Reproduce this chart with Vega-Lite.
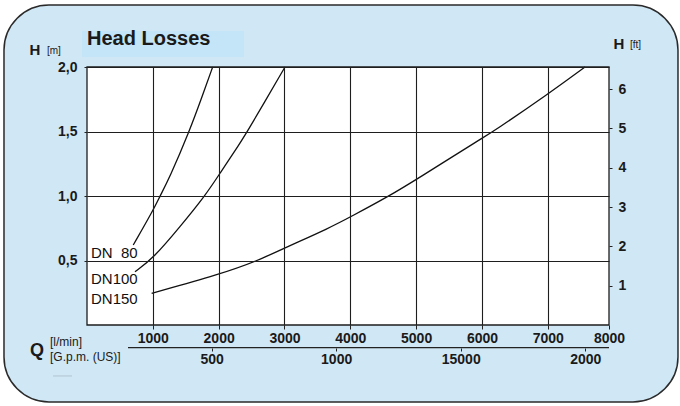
{
  "$schema": "https://vega.github.io/schema/vega-lite/v6.json",
  "width": 522,
  "height": 258,
  "autosize": {"type": "none"},
  "padding": {"left": 87, "top": 67, "right": 71, "bottom": 81},
  "background": "white",
  "config": {
    "view": {"stroke": null},
    "axis": {"labelFont": "Liberation Sans", "labelColor": "#1a1a1a", "tickColor": "#222222", "title": null}
  },
  "layer": [
    {
      "data": {"values": [{}]},
      "mark": {"type": "rect", "cornerRadius": 45, "fill": "#d0e7f5", "stroke": "#2a2a2a", "strokeWidth": 1.5},
      "encoding": {
        "x": {"datum": -1261, "type": "quantitative", "scale": {"domain": [0, 7930], "nice": false, "zero": false}, "axis": null},
        "x2": {"datum": 8978},
        "y": {"datum": 2.4806, "type": "quantitative", "scale": {"domain": [0, 2], "nice": false, "zero": false}, "axis": null},
        "y2": {"datum": -0.597}
      }
    },
    {
      "data": {"values": [{}]},
      "mark": {"type": "rect", "fill": "#c3e5f7"},
      "encoding": {
        "x": {"datum": -76, "type": "quantitative", "scale": {"domain": [0, 7930], "nice": false, "zero": false}, "axis": null},
        "x2": {"datum": 2385},
        "y": {"datum": 2.279, "type": "quantitative", "scale": {"domain": [0, 2], "nice": false, "zero": false}, "axis": null},
        "y2": {"datum": 2.078}
      }
    },
    {
      "data": {"values": [{}]},
      "mark": {"type": "rect", "fill": "white", "stroke": "#1e1e1e", "strokeWidth": 1.3},
      "encoding": {
        "x": {"datum": 0, "type": "quantitative", "scale": {"domain": [0, 7930], "nice": false, "zero": false}, "axis": null},
        "x2": {"datum": 7930},
        "y": {"datum": 0, "type": "quantitative", "scale": {"domain": [0, 2], "nice": false, "zero": false}, "axis": null},
        "y2": {"datum": 2}
      }
    },
    {
      "data": {"values": [
        {"series": "DN 80", "Q": 703, "H": 0.62},
        {"series": "DN 80", "Q": 1007, "H": 0.891},
        {"series": "DN 80", "Q": 1109, "H": 1.0},
        {"series": "DN 80", "Q": 1250, "H": 1.137},
        {"series": "DN 80", "Q": 1554, "H": 1.498},
        {"series": "DN 80", "Q": 1767, "H": 1.796},
        {"series": "DN 80", "Q": 1909, "H": 2.0},
        {"series": "DN 100", "Q": 729, "H": 0.413},
        {"series": "DN 100", "Q": 1007, "H": 0.517},
        {"series": "DN 100", "Q": 1413, "H": 0.762},
        {"series": "DN 100", "Q": 1792, "H": 1.0},
        {"series": "DN 100", "Q": 2020, "H": 1.176},
        {"series": "DN 100", "Q": 2324, "H": 1.409},
        {"series": "DN 100", "Q": 2435, "H": 1.498},
        {"series": "DN 100", "Q": 3008, "H": 2.0},
        {"series": "DN 150", "Q": 982, "H": 0.246},
        {"series": "DN 150", "Q": 2020, "H": 0.393},
        {"series": "DN 150", "Q": 2601, "H": 0.5},
        {"series": "DN 150", "Q": 2993, "H": 0.595},
        {"series": "DN 150", "Q": 3691, "H": 0.754},
        {"series": "DN 150", "Q": 4010, "H": 0.84},
        {"series": "DN 150", "Q": 4592, "H": 1.0},
        {"series": "DN 150", "Q": 5008, "H": 1.129},
        {"series": "DN 150", "Q": 6020, "H": 1.455},
        {"series": "DN 150", "Q": 6172, "H": 1.5},
        {"series": "DN 150", "Q": 7007, "H": 1.791},
        {"series": "DN 150", "Q": 7565, "H": 2.0}
      ]},
      "mark": {"type": "line", "interpolate": "basis", "color": "#111111", "strokeWidth": 1.3},
      "encoding": {
        "x": {"field": "Q", "type": "quantitative", "scale": {"domain": [0, 7930], "nice": false, "zero": false},
          "axis": {"orient": "bottom", "zindex": 1, "title": null, "values": [1000, 2000, 3000, 4000, 5000, 6000, 7000, 7930],
            "labelExpr": "datum.value > 7500 ? '8000' : format(datum.value, 'd')",
            "grid": true, "gridColor": "#1e1e1e", "gridWidth": 1.1,
            "gridOpacity": {"condition": {"test": "datum.value > 7500", "value": 0}, "value": 1},
            "domain": false, "tickSize": 4, "labelPadding": 2, "labelFontSize": 14, "labelFontWeight": "bold", "labelFlush": false, "labelOverlap": false}},
        "y": {"field": "H", "type": "quantitative", "scale": {"domain": [0, 2], "nice": false, "zero": false},
          "axis": {"orient": "left", "zindex": 1, "title": null, "values": [0.5, 1, 1.5, 2], "labelExpr": "replace(format(datum.value, '.1f'), '.', ',')",
            "grid": true, "gridColor": "#1e1e1e", "gridWidth": 1.1,
            "domain": false, "tickSize": 3, "labelPadding": 7, "labelFontSize": 14, "labelFontWeight": "bold", "labelFlush": false, "labelOverlap": false}},
        "detail": {"field": "series"}
      }
    },
    {
      "data": {"values": [{}]},
      "mark": {"type": "rule", "color": "#222222", "strokeWidth": 1.2},
      "encoding": {
        "x": {"datum": 623, "type": "quantitative", "scale": {"domain": [0, 7930], "nice": false, "zero": false}, "axis": null},
        "x2": {"datum": 7930},
        "y": {"datum": -0.176, "type": "quantitative", "scale": {"domain": [0, 2], "nice": false, "zero": false}, "axis": null}
      }
    },
    {
      "data": {"values": [{}]},
      "mark": {"type": "rule", "color": "#b0c4d0", "strokeWidth": 1},
      "encoding": {
        "x": {"datum": -516, "type": "quantitative", "scale": {"domain": [0, 7930], "nice": false, "zero": false}, "axis": null},
        "x2": {"datum": -228},
        "y": {"datum": -0.395, "type": "quantitative", "scale": {"domain": [0, 2], "nice": false, "zero": false}, "axis": null}
      }
    },
    {
      "data": {"values": [
        {"label": "DN\u00a0\u00a080", "Q": 61, "H": 0.56},
        {"label": "DN100", "Q": 61, "H": 0.357},
        {"label": "DN150", "Q": 61, "H": 0.199}
      ]},
      "mark": {"type": "text", "align": "left", "baseline": "middle", "font": "Liberation Sans", "fontSize": 15, "color": "#111111"},
      "encoding": {
        "x": {"field": "Q", "type": "quantitative", "scale": {"domain": [0, 7930], "nice": false, "zero": false}, "axis": null},
        "y": {"field": "H", "type": "quantitative", "scale": {"domain": [0, 2], "nice": false, "zero": false}, "axis": null},
        "text": {"field": "label"}
      }
    },
    {
      "data": {"values": [{}]},
      "mark": {"type": "text", "text": "Head Losses", "align": "left", "baseline": "middle", "font": "Liberation Sans", "fontWeight": "bold", "fontSize": 20, "color": "#1a1a1a"},
      "encoding": {
        "x": {"datum": 0, "type": "quantitative", "scale": {"domain": [0, 7930], "nice": false, "zero": false}, "axis": null},
        "y": {"datum": 2.217, "type": "quantitative", "scale": {"domain": [0, 2], "nice": false, "zero": false}, "axis": null}
      }
    },
    {
      "data": {"values": [{}]},
      "mark": {"type": "text", "text": "H", "align": "center", "baseline": "middle", "font": "Liberation Sans", "fontWeight": "bold", "fontSize": 15, "color": "#1a1a1a"},
      "encoding": {
        "x": {"datum": -790, "type": "quantitative", "scale": {"domain": [0, 7930], "nice": false, "zero": false}, "axis": null},
        "y": {"datum": 2.132, "type": "quantitative", "scale": {"domain": [0, 2], "nice": false, "zero": false}, "axis": null}
      }
    },
    {
      "data": {"values": [{}]},
      "mark": {"type": "text", "text": "[m]", "align": "left", "baseline": "middle", "font": "Liberation Sans", "fontSize": 10, "color": "#1a1a1a"},
      "encoding": {
        "x": {"datum": -608, "type": "quantitative", "scale": {"domain": [0, 7930], "nice": false, "zero": false}, "axis": null},
        "y": {"datum": 2.124, "type": "quantitative", "scale": {"domain": [0, 2], "nice": false, "zero": false}, "axis": null}
      }
    },
    {
      "data": {"values": [{}]},
      "mark": {"type": "text", "text": "H", "align": "center", "baseline": "middle", "font": "Liberation Sans", "fontWeight": "bold", "fontSize": 15, "color": "#1a1a1a"},
      "encoding": {
        "x": {"datum": 8081, "type": "quantitative", "scale": {"domain": [0, 7930], "nice": false, "zero": false}, "axis": null},
        "y": {"datum": 2.178, "type": "quantitative", "scale": {"domain": [0, 2], "nice": false, "zero": false}, "axis": null}
      }
    },
    {
      "data": {"values": [{}]},
      "mark": {"type": "text", "text": "[ft]", "align": "left", "baseline": "middle", "font": "Liberation Sans", "fontSize": 10, "color": "#1a1a1a"},
      "encoding": {
        "x": {"datum": 8249, "type": "quantitative", "scale": {"domain": [0, 7930], "nice": false, "zero": false}, "axis": null},
        "y": {"datum": 2.17, "type": "quantitative", "scale": {"domain": [0, 2], "nice": false, "zero": false}, "axis": null}
      }
    },
    {
      "data": {"values": [{}]},
      "mark": {"type": "text", "text": "Q", "align": "center", "baseline": "middle", "font": "Liberation Sans", "fontWeight": "bold", "fontSize": 18, "color": "#1a1a1a"},
      "encoding": {
        "x": {"datum": -760, "type": "quantitative", "scale": {"domain": [0, 7930], "nice": false, "zero": false}, "axis": null},
        "y": {"datum": -0.2016, "type": "quantitative", "scale": {"domain": [0, 2], "nice": false, "zero": false}, "axis": null}
      }
    },
    {
      "data": {"values": [{}]},
      "mark": {"type": "text", "text": "[l/min]", "align": "left", "baseline": "middle", "font": "Liberation Sans", "fontSize": 12, "color": "#1a1a1a"},
      "encoding": {
        "x": {"datum": -562, "type": "quantitative", "scale": {"domain": [0, 7930], "nice": false, "zero": false}, "axis": null},
        "y": {"datum": -0.132, "type": "quantitative", "scale": {"domain": [0, 2], "nice": false, "zero": false}, "axis": null}
      }
    },
    {
      "data": {"values": [{}]},
      "mark": {"type": "text", "text": "[G.p.m. (US)]", "align": "left", "baseline": "middle", "font": "Liberation Sans", "fontSize": 12, "color": "#1a1a1a"},
      "encoding": {
        "x": {"datum": -562, "type": "quantitative", "scale": {"domain": [0, 7930], "nice": false, "zero": false}, "axis": null},
        "y": {"datum": -0.248, "type": "quantitative", "scale": {"domain": [0, 2], "nice": false, "zero": false}, "axis": null}
      }
    },
    {
      "data": {"values": [{"gpm": 0}, {"gpm": 2095.1}]},
      "mark": {"type": "point", "opacity": 0},
      "encoding": {
        "x": {"field": "gpm", "type": "quantitative", "scale": {"domain": [0, 2095.1], "nice": false, "zero": false},
          "axis": {"orient": "bottom", "zindex": 1, "offset": 23, "values": [500, 1000, 1500, 2000],
            "labelExpr": "datum.value == 1500 ? '15000' : format(datum.value, 'd')",
            "grid": false, "domain": false, "tickSize": 3, "labelPadding": 1, "labelFontSize": 14, "labelFontWeight": "bold", "labelFlush": false, "labelOverlap": false}}
      }
    },
    {
      "data": {"values": [{"ft": 0}, {"ft": 6.5617}]},
      "mark": {"type": "point", "opacity": 0},
      "encoding": {
        "y": {"field": "ft", "type": "quantitative", "scale": {"domain": [0, 6.5617], "nice": false, "zero": false},
          "axis": {"orient": "right", "zindex": 1, "values": [1, 2, 3, 4, 5, 6], "format": "d",
            "grid": false, "domain": false, "tickSize": 3, "labelPadding": 6, "labelFontSize": 14, "labelFontWeight": "bold", "labelFlush": false, "labelOverlap": false}}
      }
    }
  ],
  "resolve": {"scale": {"x": "independent", "y": "independent"}}
}
